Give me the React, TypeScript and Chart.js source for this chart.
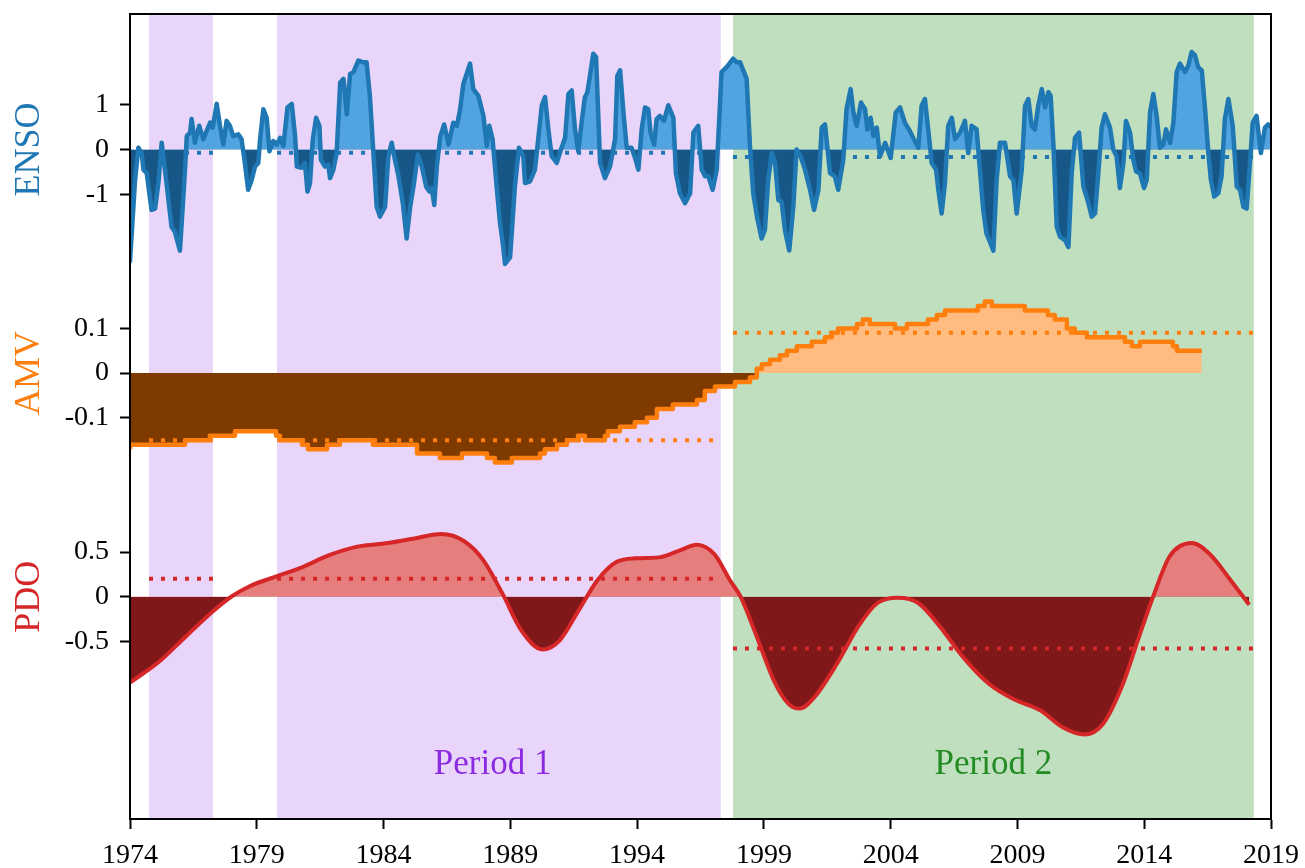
import React, { useEffect, useRef } from "react";
import { Chart, registerables } from "chart.js";

Chart.register(...registerables);

// ---------- data ----------
const xTickYears = [1974, 1979, 1984, 1989, 1994, 1999, 2004, 2009, 2014, 2019];

const ensoYears = [
  1974.0, 1974.2, 1974.33, 1974.46, 1974.53, 1974.66, 1974.85, 1974.99, 1975.12, 1975.25,
  1975.38, 1975.64, 1975.77, 1975.97, 1976.17, 1976.24, 1976.37, 1976.43, 1976.56, 1976.73,
  1976.89, 1977.02, 1977.16, 1977.26, 1977.42, 1977.55, 1977.68, 1977.81, 1977.94, 1978.07,
  1978.27, 1978.4, 1978.53, 1978.66, 1978.8, 1978.93, 1979.06, 1979.13, 1979.26, 1979.39,
  1979.5, 1979.65, 1979.79, 1979.92, 1980.05, 1980.21, 1980.38, 1980.51, 1980.58, 1980.77,
  1980.9, 1981.0, 1981.1, 1981.21, 1981.34, 1981.47, 1981.53, 1981.69, 1981.82, 1981.89,
  1982.02, 1982.15, 1982.29, 1982.42, 1982.55, 1982.68, 1982.81, 1983.01, 1983.2, 1983.33,
  1983.46, 1983.6, 1983.73, 1983.86, 1984.06, 1984.19, 1984.32, 1984.45, 1984.59, 1984.76,
  1984.91, 1985.05, 1985.18, 1985.35, 1985.51, 1985.68, 1985.81, 1985.9, 1986.0, 1986.1,
  1986.24, 1986.39, 1986.56, 1986.75, 1986.89, 1987.01, 1987.15, 1987.41, 1987.54, 1987.74,
  1987.94, 1988.07, 1988.17, 1988.3, 1988.46, 1988.59, 1988.72, 1988.79, 1988.99, 1989.18,
  1989.34, 1989.51, 1989.58, 1989.78, 1989.97, 1990.1, 1990.24, 1990.37, 1990.5, 1990.63,
  1990.83, 1991.02, 1991.16, 1991.29, 1991.42, 1991.55, 1991.68, 1991.81, 1991.94, 1992.04,
  1992.14, 1992.27, 1992.38, 1992.54, 1992.73, 1992.93, 1993.13, 1993.22, 1993.33, 1993.46,
  1993.59, 1993.78, 1993.92, 1994.05, 1994.18, 1994.31, 1994.44, 1994.53, 1994.67, 1994.77,
  1994.9, 1995.06, 1995.23, 1995.43, 1995.53, 1995.69, 1995.89, 1996.09, 1996.22, 1996.41,
  1996.55, 1996.68, 1996.81, 1996.98, 1997.14, 1997.33, 1997.53, 1997.79, 1997.93, 1998.06,
  1998.32, 1998.45, 1998.58, 1998.74, 1998.91, 1999.04, 1999.17, 1999.31, 1999.44, 1999.57,
  1999.7, 1999.83, 2000.0, 2000.16, 2000.29, 2000.45, 2000.62, 2000.82, 2000.98, 2001.15,
  2001.28, 2001.41, 2001.61, 2001.8, 2001.93, 2002.13, 2002.26, 2002.42, 2002.53, 2002.66,
  2002.83, 2002.99, 2003.08, 2003.21, 2003.32, 2003.45, 2003.58, 2003.78, 2004.0, 2004.2,
  2004.37, 2004.56, 2004.76, 2004.89, 2005.09, 2005.22, 2005.35, 2005.48, 2005.62, 2005.79,
  2005.88, 2006.01, 2006.14, 2006.27, 2006.41, 2006.54, 2006.74, 2006.93, 2007.06, 2007.19,
  2007.39, 2007.52, 2007.65, 2007.78, 2007.92, 2008.05, 2008.18, 2008.31, 2008.51, 2008.71,
  2008.84, 2008.97, 2009.17, 2009.3, 2009.43, 2009.56, 2009.69, 2009.82, 2009.96, 2010.09,
  2010.22, 2010.31, 2010.42, 2010.55, 2010.68, 2010.88, 2011.01, 2011.14, 2011.27, 2011.43,
  2011.6, 2011.8, 2011.93, 2012.06, 2012.19, 2012.32, 2012.45, 2012.65, 2012.78, 2012.91,
  2013.04, 2013.18, 2013.28, 2013.44, 2013.57, 2013.68, 2013.83, 2013.99, 2014.1, 2014.23,
  2014.36, 2014.49, 2014.62, 2014.75, 2014.86, 2015.02, 2015.15, 2015.28, 2015.41, 2015.61,
  2015.74, 2015.87, 2016.0, 2016.13, 2016.27, 2016.4, 2016.53, 2016.63, 2016.76, 2016.92,
  2017.05, 2017.18, 2017.32, 2017.49, 2017.65, 2017.78, 2017.91, 2018.04, 2018.17, 2018.28,
  2018.43, 2018.6, 2018.76, 2018.89, 2019.0,
];
const ensoValues = [
  -2.5, -0.68, 0.04, -0.08, -0.45, -0.53, -1.35, -1.32, -0.75, 0.15,
  -0.45, -1.73, -1.84, -2.26, -0.45, 0.3, 0.38, 0.68, 0.15, 0.53,
  0.23, 0.41, 0.6, 0.49, 1.02, 0.53, 0.11, 0.64, 0.53, 0.3,
  0.34, 0.23, -0.3, -0.9, -0.68, -0.38, -0.3, 0.23, 0.9, 0.71,
  -0.04, 0.19, 0.11, 0.26, 0.08, 0.94, 1.02, 0.3, -0.38, -0.41,
  -0.3, -0.94, -0.75, 0.23, 0.71, 0.53, -0.23, -0.38, -0.34, -0.64,
  -0.45, -0.08, 1.5, 1.58, 0.79, 1.69, 1.73, 1.99, 1.95, 1.95,
  1.2, -0.08, -1.28, -1.5, -1.28, -0.15, 0.15, -0.23, -0.6, -1.2,
  -1.99, -1.28, -0.83, -0.11, -0.38, -0.83, -0.94, -0.86, -1.24, -0.38,
  0.3, 0.56, 0.11, 0.6, 0.53, 0.86, 1.47, 1.92, 1.35, 1.2,
  0.75, 0.08, 0.53, 0.23, -0.83, -1.62, -2.18, -2.56, -2.41, -0.83,
  0.04, -0.15, -0.75, -0.71, -0.45, 0.23, 0.98, 1.17, 0.45, -0.15,
  -0.3, 0.04, 0.26, 1.24, 1.32, 0.45, -0.04, 0.6, 1.17, 1.28,
  1.65, 2.14, 2.07, -0.3, -0.64, -0.38, 0.23, 1.65, 1.77, 0.83,
  0.04, 0.04, -0.19, -0.45, 0.45, 0.94, 0.9, 0.38, 0.11, 0.68,
  0.75, 0.64, 0.99, 0.71, -0.53, -0.98, -1.2, -0.98, 0.38, 0.53,
  -0.45, -0.6, -0.6, -0.9, -0.45, 1.73, 1.84, 2.03, 1.95, 1.95,
  1.58, 0.08, -0.98, -1.54, -1.99, -1.8, -0.68, -0.08, -0.3, -1.13,
  -1.17, -1.8, -2.26, -1.28, 0.0, -0.15, -0.45, -0.9, -1.35, -0.9,
  0.49, 0.56, -0.53, -0.6, -0.9, -0.23, 0.9, 1.35, 0.83, 0.53,
  1.05, 0.9, 0.45, 0.71, 0.3, 0.49, -0.15, 0.15, -0.19, 0.83,
  0.94, 0.6, 0.41, 0.26, 0.04, 0.98, 1.13, 0.45, -0.3, -0.45,
  -0.9, -1.43, -0.75, 0.53, 0.71, 0.23, 0.38, 0.64, -0.08, 0.53,
  0.45, -0.45, -1.35, -1.88, -2.07, -2.26, -0.68, 0.15, 0.15, -0.6,
  -0.68, -1.43, -0.45, 0.98, 1.13, 0.53, 0.45, 0.98, 1.35, 0.94,
  1.28, 1.2, 0.08, -1.73, -1.95, -2.03, -2.18, -0.53, 0.26, 0.38,
  -0.83, -1.2, -1.5, -1.43, -0.53, 0.49, 0.79, 0.49, 0.0, -0.15,
  -0.86, -0.3, 0.64, 0.38, -0.23, -0.49, -0.53, -0.86, -0.68, 0.83,
  1.24, 0.75, 0.04, 0.11, 0.45, 0.15, 0.6, 1.73, 1.92, 1.73,
  1.88, 2.18, 2.11, 1.84, 1.77, 0.9, -0.08, -0.68, -1.05, -0.98,
  -0.6, 0.68, 1.13, 0.53, -0.83, -0.9, -1.28, -1.32, -0.3, 0.6,
  0.75, -0.08, 0.49, 0.56, 0.5,
];

// AMV: start year of each plateau and its (rounded) value
const amvYears = [
  1974.0, 1976.17, 1977.15, 1978.14, 1979.76, 1979.91, 1980.78, 1981.02, 1981.77, 1982.28,
  1983.58, 1985.32, 1986.22, 1987.09, 1988.08, 1988.39, 1989.06, 1990.17, 1990.36, 1990.84,
  1991.23, 1991.67, 1991.94, 1992.73, 1992.85, 1993.32, 1993.91, 1994.39, 1994.78, 1995.41,
  1996.36, 1996.67, 1997.07, 1997.86, 1998.45, 1998.72, 1998.92, 1999.24, 1999.63, 1999.91,
  2000.3, 2000.89, 2001.41, 2001.68, 2001.92, 2002.67, 2002.9, 2003.18, 2004.17, 2004.64,
  2005.47, 2005.82, 2006.14, 2007.44, 2007.71, 2007.99, 2009.29, 2010.2, 2010.47, 2010.95,
  2011.26, 2011.74, 2013.24, 2013.51, 2013.83, 2015.13, 2015.29, 2015.72, 2016.27,
];
const amvValues = [
  -0.17, -0.16, -0.15, -0.14, -0.13, -0.14, -0.15, -0.16, -0.17, -0.16,
  -0.15, -0.16, -0.18, -0.19, -0.18, -0.19, -0.2, -0.19, -0.18, -0.17,
  -0.16, -0.15, -0.14, -0.15, -0.14, -0.13, -0.12, -0.11, -0.1, -0.08,
  -0.07, -0.06, -0.04, -0.03, -0.02, -0.01, 0.01, 0.02, 0.03, 0.04,
  0.05, 0.06, 0.07, 0.08, 0.09, 0.1, 0.11, 0.12, 0.11, 0.1,
  0.11, 0.12, 0.13, 0.14, 0.15, 0.16, 0.15, 0.14, 0.13, 0.12,
  0.1, 0.09, 0.08, 0.07, 0.06, 0.07, 0.06, 0.05, 0.05,
];

const pdoYears = [
  1974.0, 1975.13, 1976.18, 1977.24, 1977.99, 1978.74, 1979.8, 1980.7, 1981.91, 1982.96,
  1984.17, 1985.37, 1986.27, 1987.18, 1987.93, 1988.68, 1989.44, 1990.27, 1990.94, 1991.7,
  1992.45, 1993.2, 1993.95, 1994.86, 1995.61, 1996.36, 1997.06, 1997.65, 1998.08, 1998.67,
  1999.4, 1999.98, 2000.42, 2001.0, 2001.88, 2002.75, 2003.48, 2004.28, 2005.09, 2005.96,
  2006.84, 2007.86, 2008.88, 2009.9, 2010.78, 2011.65, 2012.38, 2013.11, 2013.84, 2014.35,
  2015.0, 2015.88, 2016.61, 2017.34, 2018.14,
];
const pdoValues = [
  -0.96, -0.73, -0.45, -0.17, 0.0, 0.12, 0.23, 0.32, 0.47, 0.56,
  0.6, 0.66, 0.7, 0.62, 0.41, 0.04, -0.38, -0.59, -0.49, -0.15,
  0.19, 0.39, 0.43, 0.44, 0.51, 0.58, 0.47, 0.19, 0.0, -0.41,
  -0.94, -1.2, -1.25, -1.12, -0.75, -0.32, -0.07, -0.01, -0.07, -0.34,
  -0.67, -0.97, -1.15, -1.27, -1.46, -1.54, -1.42, -1.01, -0.41, 0.0,
  0.45, 0.6, 0.47, 0.21, -0.09,
];

// period shading (start, end) and period means
const period1Spans = [
  [1974.75, 1977.27],
  [1979.8, 1997.3],
];
const period2Span = [1997.78, 2018.32];
const periodNames = ["Period 1", "Period 2"];
const periodLabelYears = [1988.3, 2008.05];

const ensoMeans = [-0.07, -0.17];
const amvMeans = [-0.15, 0.09];
const pdoMeans = [0.2, -0.58];

const ensoTicks = [-1, 0, 1];
const amvTicks = [-0.1, 0, 0.1];
const pdoTicks = [-0.5, 0, 0.5];

// ---------- panel placement (offset & scale onto a shared axis) ----------
const ENSO_OFF = 15, ENSO_K = 1;
const AMV_OFF = 10, AMV_K = 10;
const PDO_OFF = 5, PDO_K = 2;

const FONT = "'Liberation Serif', 'Times New Roman', serif";

const C = {
  ensoLine: "#1f77b4",
  ensoUp: "#52a4e0",
  ensoDown: "#165787",
  amvLine: "#ff7f0e",
  amvUp: "#ffbb80",
  amvDown: "#7f3a00",
  pdoLine: "#d62728",
  pdoUp: "#e67e7e",
  pdoDown: "#801719",
  purple: "rgb(232,213,249)",
  green: "rgb(191,223,191)",
  p1Text: "#8a2be2",
  p2Text: "#228b22",
};

function meanPoints(m1: number, m2: number, off: number, k: number) {
  const pts: any[] = [];
  period1Spans.forEach((s, i) => {
    if (i > 0) pts.push({ x: s[0], y: null });
    pts.push({ x: s[0], y: off + k * m1 });
    pts.push({ x: s[1], y: off + k * m1 });
  });
  pts.push({ x: period2Span[0], y: null });
  pts.push({ x: period2Span[0], y: off + k * m2 });
  pts.push({ x: period2Span[1], y: off + k * m2 });
  return pts;
}

const tickLabelMap: Record<string, string> = {};
ensoTicks.forEach((v) => (tickLabelMap[(ENSO_OFF + ENSO_K * v).toFixed(3)] = String(v)));
amvTicks.forEach((v) => (tickLabelMap[(AMV_OFF + AMV_K * v).toFixed(3)] = String(v)));
pdoTicks.forEach((v) => (tickLabelMap[(PDO_OFF + PDO_K * v).toFixed(3)] = String(v)));

export default function App() {
  const ref = useRef<HTMLCanvasElement | null>(null);

  useEffect(() => {
    if (!ref.current) return;

    const shading = {
      id: "shading",
      beforeDatasetsDraw(chart: any) {
        const { ctx, chartArea, scales } = chart;
        const xs = scales.x;
        ctx.save();
        ctx.fillStyle = C.purple;
        period1Spans.forEach((s) => {
          const a = xs.getPixelForValue(s[0]);
          const b = xs.getPixelForValue(s[1]);
          ctx.fillRect(a, chartArea.top, b - a, chartArea.bottom - chartArea.top);
        });
        ctx.fillStyle = C.green;
        const a = xs.getPixelForValue(period2Span[0]);
        const b = xs.getPixelForValue(period2Span[1]);
        ctx.fillRect(a, chartArea.top, b - a, chartArea.bottom - chartArea.top);
        ctx.restore();
      },
      afterDraw(chart: any) {
        const { ctx, chartArea, scales } = chart;
        const xs = scales.x;
        const ys = scales.y;
        ctx.save();
        // period labels
        ctx.font = `35px ${FONT}`;
        ctx.textAlign = "center";
        ctx.textBaseline = "middle";
        ctx.fillStyle = C.p1Text;
        ctx.fillText(periodNames[0], xs.getPixelForValue(periodLabelYears[0]), ys.getPixelForValue(1.25));
        ctx.fillStyle = C.p2Text;
        ctx.fillText(periodNames[1], xs.getPixelForValue(periodLabelYears[1]), ys.getPixelForValue(1.25));
        // panel names
        ctx.font = `36px ${FONT}`;
        const names: [string, number, string][] = [
          ["ENSO", ENSO_OFF, C.ensoLine],
          ["AMV", AMV_OFF, C.amvLine],
          ["PDO", PDO_OFF, C.pdoLine],
        ];
        names.forEach(([t, off, col]) => {
          ctx.save();
          ctx.translate(30, ys.getPixelForValue(off));
          ctx.rotate(-Math.PI / 2);
          ctx.fillStyle = col;
          ctx.fillText(t, 0, 0);
          ctx.restore();
        });
        // frame
        ctx.strokeStyle = "#000";
        ctx.lineWidth = 2;
        ctx.strokeRect(chartArea.left, chartArea.top, chartArea.right - chartArea.left, chartArea.bottom - chartArea.top);
        ctx.restore();
      },
    };

    const ensoData = ensoYears.map((x, i) => ({ x, y: ENSO_OFF + ENSO_K * ensoValues[i] }));
    const amvData = amvYears.map((x, i) => ({ x, y: AMV_OFF + AMV_K * amvValues[i] }));
    const pdoData = pdoYears.map((x, i) => ({ x, y: PDO_OFF + PDO_K * pdoValues[i] }));

    const dotted = (data: any[], color: string, order: number) => ({
      data,
      borderColor: color,
      borderWidth: 4,
      borderDash: [4, 8],
      borderCapStyle: "butt",
      pointRadius: 0,
      fill: false,
      spanGaps: false,
      order,
    });

    const chart = new Chart(ref.current, {
      type: "line",
      data: {
        datasets: [
          dotted(meanPoints(ensoMeans[0], ensoMeans[1], ENSO_OFF, ENSO_K), C.ensoLine, 10),
          {
            data: ensoData,
            borderColor: C.ensoLine,
            borderWidth: 4.5,
            pointRadius: 0,
            tension: 0,
            borderJoinStyle: "round",
            borderCapStyle: "round",
            fill: { target: { value: ENSO_OFF }, above: C.ensoUp, below: C.ensoDown },
            order: 9,
          } as any,
          {
            data: amvData,
            borderColor: C.amvLine,
            borderWidth: 4.5,
            pointRadius: 0,
            stepped: "after",
            borderJoinStyle: "round",
            fill: { target: { value: AMV_OFF }, above: C.amvUp, below: C.amvDown },
            order: 8,
          } as any,
          dotted(meanPoints(amvMeans[0], amvMeans[1], AMV_OFF, AMV_K), C.amvLine, 7),
          {
            data: pdoData,
            borderColor: C.pdoLine,
            borderWidth: 4,
            pointRadius: 0,
            cubicInterpolationMode: "monotone",
            fill: { target: { value: PDO_OFF }, above: C.pdoUp, below: C.pdoDown },
            order: 6,
          } as any,
          dotted(meanPoints(pdoMeans[0], pdoMeans[1], PDO_OFF, PDO_K), C.pdoLine, 5),
        ] as any,
      },
      options: {
        animation: false,
        responsive: false,
        maintainAspectRatio: false,
        layout: { padding: { top: 14, right: 34, left: 0, bottom: 0 } },
        plugins: {
          legend: { display: false },
          tooltip: { enabled: false },
        },
        scales: {
          x: {
            type: "linear",
            min: 1974,
            max: 2019,
            afterBuildTicks: (s: any) => {
              s.ticks = xTickYears.map((v) => ({ value: v }));
            },
            afterFit: (s: any) => {
              s.height = 49;
              s.paddingLeft = 0;
              s.paddingRight = 0;
            },
            ticks: {
              color: "#000",
              font: { family: FONT, size: 28 },
              padding: 10,
              maxRotation: 0,
              autoSkip: false,
              callback: (v: any) => String(v),
            },
            grid: {
              display: true,
              drawOnChartArea: false,
              drawTicks: true,
              tickLength: 10,
              tickWidth: 2,
              tickColor: "#000",
            },
            border: { display: true, color: "#000", width: 2 },
          },
          y: {
            type: "linear",
            min: 0.03,
            max: 18.03,
            afterBuildTicks: (s: any) => {
              s.ticks = Object.keys(tickLabelMap).map((k) => ({ value: parseFloat(k) }));
            },
            afterFit: (s: any) => {
              s.width = 130;
              s.paddingTop = 0;
              s.paddingBottom = 0;
            },
            ticks: {
              color: "#000",
              font: { family: FONT, size: 28 },
              padding: 11,
              autoSkip: false,
              callback: (v: any) => tickLabelMap[Number(v).toFixed(3)] ?? "",
            },
            grid: {
              display: true,
              drawOnChartArea: false,
              drawTicks: true,
              tickLength: 10,
              tickWidth: 2,
              tickColor: "#000",
            },
            border: { display: true, color: "#000", width: 2 },
          },
        },
      } as any,
      plugins: [shading],
    });

    return () => chart.destroy();
  }, []);

  return (
    <div style={{ position: "absolute", left: 0, top: 0, width: 1305, height: 868, background: "#fff" }}>
      <canvas ref={ref} width={1305} height={868} style={{ width: 1305, height: 868, display: "block" }} />
    </div>
  );
}
